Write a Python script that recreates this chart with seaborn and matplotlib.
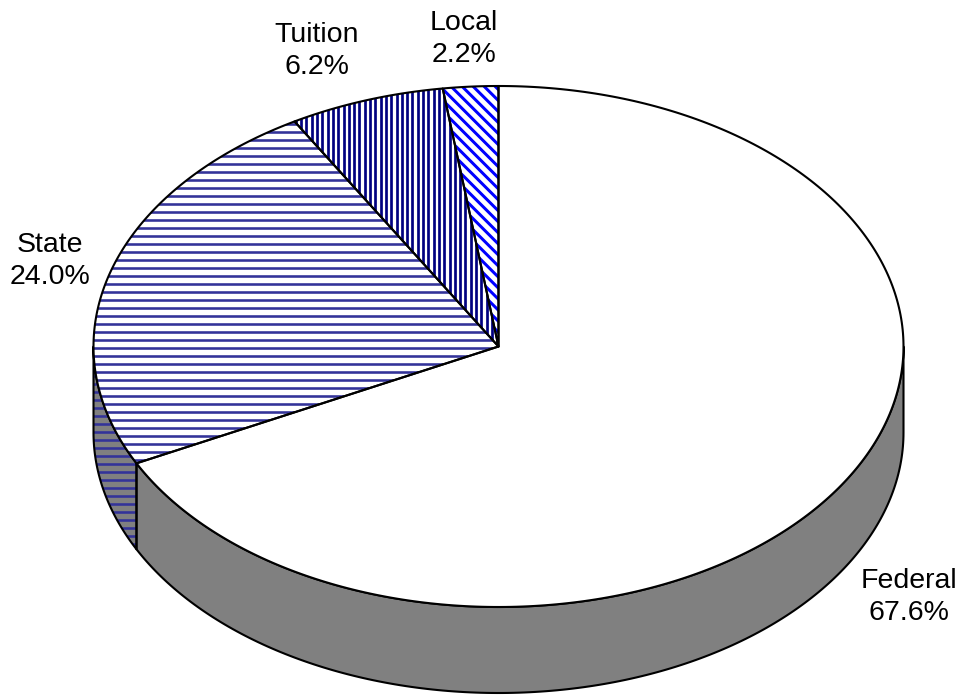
import numpy as np
import matplotlib
matplotlib.use("Agg")
import matplotlib.pyplot as plt
from matplotlib.patches import Polygon
from matplotlib.collections import LineCollection
import seaborn as sns

# ---- data ----
categories = ["Local", "Tuition", "State", "Federal"]
shares = [2.2, 6.2, 24.0, 67.6]          # percent, counter-clockwise from 12 o'clock
pct_labels = ["2.2%", "6.2%", "24.0%", "67.6%"]

# ---- style / layout ----
hatch_colors = ["#0000FF", "#000080", "#333399", None]
hatch_angles = [-45, 90, 0, None]        # line direction in screen degrees
hatch_spacing = [7.8, 5.3, 8.0, None]    # px
hatch_width = [3.0, 2.7, 2.6, None]      # px
side_gray = "#808080"
label_pos = [(464, 39), (317, 51), (50, 261), (909, 597)]

sns.set_theme(style="white")
plt.rcParams["font.family"] = ["Liberation Sans", "DejaVu Sans"]

W, H = 964, 696
fig = plt.figure(figsize=(W / 100, H / 100), dpi=100)
ax = fig.add_axes([0, 0, 1, 1])
ax.set_xlim(0, W)
ax.set_ylim(H, 0)
ax.axis("off")

cx, cy, rx, ry, depth = 498.5, 346.5, 405.0, 260.5, 86.0
EDGE_LW = 1.5


def pt(t, dy=0.0):
    return cx + rx * np.cos(t), cy - ry * np.sin(t) + dy


def add_hatch(patch, angle, spacing, color, lw_px, z):
    xy = patch.get_xy()
    x0, y0 = xy.min(axis=0)
    x1, y1 = xy.max(axis=0)
    mx, my = (x0 + x1) / 2, (y0 + y1) / 2
    L = np.hypot(x1 - x0, y1 - y0)
    a = np.deg2rad(angle)
    d = np.array([np.cos(a), -np.sin(a)])
    n = np.array([np.sin(a), np.cos(a)])
    segs = []
    k = int(L / spacing) + 2
    for i in range(-k, k + 1):
        p = np.array([mx, my]) + i * spacing * n
        segs.append([p - L * d, p + L * d])
    lc = LineCollection(segs, colors=color, linewidths=lw_px * 0.72, zorder=z)
    ax.add_collection(lc)
    lc.set_clip_path(patch)


# wedge angles
fr = np.array(shares) / np.sum(shares)
starts = np.pi / 2 + 2 * np.pi * np.concatenate([[0], np.cumsum(fr)[:-1]])
ends = np.pi / 2 + 2 * np.pi * np.cumsum(fr)

# side walls (front half: angles between pi and 2pi)
for i in range(len(shares)):
    a1, a2 = starts[i], ends[i]
    s, e = max(a1, np.pi), min(a2, 2 * np.pi)
    if e <= s:
        continue
    t = np.linspace(s, e, 200)
    top = np.column_stack(pt(t))
    bot = np.column_stack(pt(t[::-1], depth))
    poly = np.vstack([top, bot])
    face = Polygon(poly, closed=True, facecolor=side_gray, edgecolor="none", zorder=1)
    ax.add_patch(face)
    if hatch_colors[i]:
        add_hatch(face, hatch_angles[i], hatch_spacing[i], hatch_colors[i], hatch_width[i], 1.1)
    ax.add_patch(Polygon(poly, closed=True, facecolor="none", edgecolor="black",
                         linewidth=EDGE_LW, zorder=1.2, joinstyle="round"))

# top faces
for i in range(len(shares)):
    t = np.linspace(starts[i], ends[i], 300)
    arc = np.column_stack(pt(t))
    poly = np.vstack([[cx, cy], arc])
    face = Polygon(poly, closed=True, facecolor="white", edgecolor="none", zorder=3)
    ax.add_patch(face)
    if hatch_colors[i]:
        add_hatch(face, hatch_angles[i], hatch_spacing[i], hatch_colors[i], hatch_width[i], 3.1)
    ax.add_patch(Polygon(poly, closed=True, facecolor="none", edgecolor="black",
                         linewidth=EDGE_LW, zorder=3.2, joinstyle="round"))

# labels
for i, name in enumerate(categories):
    x, y = label_pos[i]
    ax.text(x, y, f"{name}\n{pct_labels[i]}", ha="center", va="center",
            fontsize=20.5, color="black", linespacing=1.25, zorder=5)

fig.savefig("out.png", dpi=100)
